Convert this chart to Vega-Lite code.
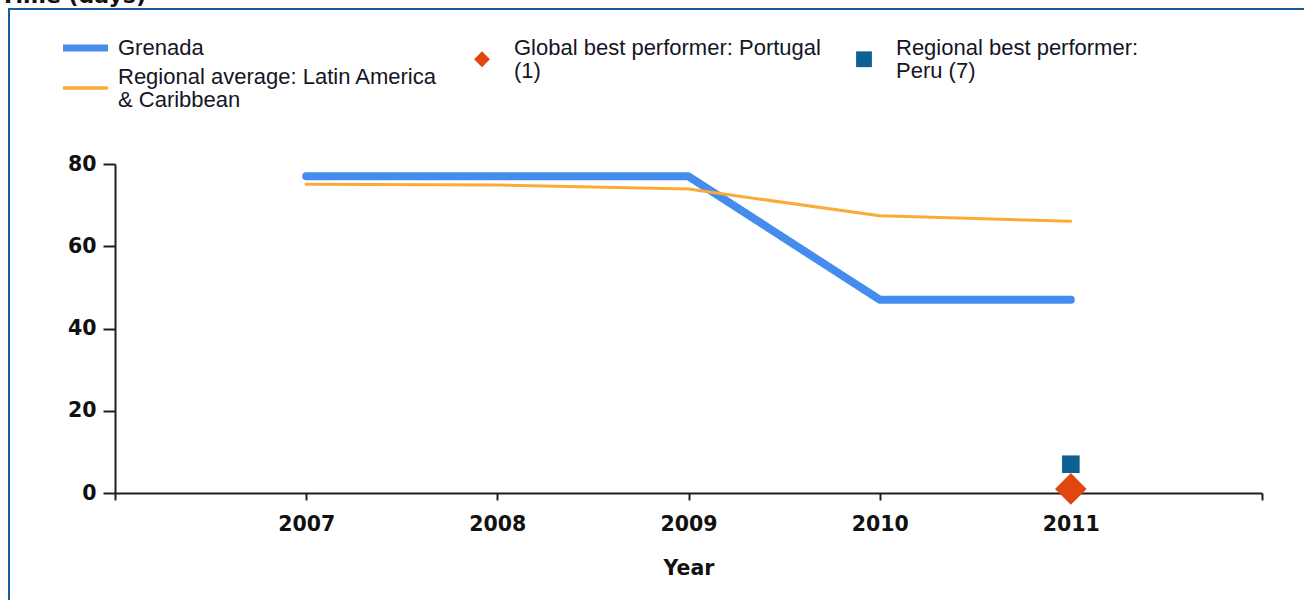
{
  "$schema": "https://vega.github.io/schema/vega-lite/v6.json",
  "autosize": "none",
  "width": 1295,
  "height": 591,
  "padding": {"left": 9, "top": 9, "right": 0, "bottom": 0},
  "background": "white",
  "config": {
    "view": {"stroke": "#1b5aa0", "strokeWidth": 2, "strokeDash": [1295, 1886, 591]},
    "axis": {
      "domainColor": "#1e1e1e", "domainWidth": 2, "tickColor": "#1e1e1e", "tickWidth": 2,
      "labelFont": "DejaVu Sans", "labelFontWeight": "bold", "labelFontSize": 20.5, "labelColor": "#111111",
      "titleFont": "DejaVu Sans", "titleFontWeight": "bold", "titleFontSize": 20.5, "titleColor": "#111111",
      "grid": false, "zindex": 1
    },
    "legend": {
      "labelFont": "Liberation Sans", "labelFontSize": 22, "labelColor": "#151525", "labelLimit": 500,
      "padding": 0, "title": null
    }
  },
  "datasets": {
    "lines": [
      {"year": 2007, "value": 77, "series": "Grenada"},
      {"year": 2008, "value": 77, "series": "Grenada"},
      {"year": 2009, "value": 77, "series": "Grenada"},
      {"year": 2010, "value": 47, "series": "Grenada"},
      {"year": 2011, "value": 47, "series": "Grenada"},
      {"year": 2007, "value": 75.1, "series": "Regional average: Latin America & Caribbean"},
      {"year": 2008, "value": 74.9, "series": "Regional average: Latin America & Caribbean"},
      {"year": 2009, "value": 73.9, "series": "Regional average: Latin America & Caribbean"},
      {"year": 2010, "value": 67.4, "series": "Regional average: Latin America & Caribbean"},
      {"year": 2011, "value": 66.1, "series": "Regional average: Latin America & Caribbean"}
    ],
    "points": [
      {"year": 2011, "value": 1, "performer": "Global best performer: Portugal (1)"},
      {"year": 2011, "value": 7, "performer": "Regional best performer: Peru (7)"}
    ]
  },
  "layer": [
    {
      "data": {"name": "lines"},
      "mark": {"type": "line", "strokeCap": "round", "strokeJoin": "round"},
      "encoding": {
        "x": {
          "field": "year", "type": "quantitative",
          "scale": {"domain": [2006, 2012], "range": [106, 1253], "zero": false, "nice": false},
          "axis": {
            "orient": "bottom", "offset": -107, "title": "Year", "titlePadding": 24,
            "values": [2006, 2007, 2008, 2009, 2010, 2011, 2012], "format": "d",
            "labelExpr": "datum.value == 2006 || datum.value == 2012 ? '' : datum.label",
            "tickSize": 7, "labelPadding": 14, "labelFlush": false
          }
        },
        "y": {
          "field": "value", "type": "quantitative",
          "scale": {"domain": [0, 80], "range": [484, 155], "nice": false},
          "axis": {
            "orient": "left", "offset": -106, "values": [0, 20, 40, 60, 80],
            "tickSize": 12, "labelPadding": 7,
            "title": "Time (days)", "titleAngle": 0, "titleAlign": "left", "titleBaseline": "alphabetic",
            "titleX": -115, "titleY": -7, "titleFontSize": 22, "titleFont": "DejaVu Sans"
          }
        },
        "color": {
          "field": "series", "type": "nominal",
          "scale": {"domain": ["Grenada", "Regional average: Latin America & Caribbean"], "range": ["#458cef", "#fbab35"]},
          "legend": {
            "orient": "none", "legendX": 65.5, "legendY": 28, "direction": "vertical",
            "symbolType": "stroke", "symbolSize": 2025, "labelOffset": 21.5, "rowPadding": 3,
            "labelExpr": "datum.label == 'Regional average: Latin America & Caribbean' ? ['Regional average: Latin America', '& Caribbean'] : datum.label",
            "encode": {
              "symbols": {"update": {"strokeWidth": {"signal": "datum.value == 'Grenada' ? 7 : 3.5"}}},
              "labels": {"update": {"dy": {"signal": "datum.value == 'Grenada' ? 0 : -11.5"}, "lineHeight": {"value": 23}}}
            }
          }
        },
        "strokeWidth": {
          "field": "series", "type": "nominal",
          "scale": {"domain": ["Grenada", "Regional average: Latin America & Caribbean"], "range": [8, 3]},
          "legend": null
        }
      }
    },
    {
      "data": {"name": "points"},
      "mark": {"type": "point", "filled": true, "opacity": 1},
      "encoding": {
        "x": {"field": "year", "type": "quantitative"},
        "y": {"field": "value", "type": "quantitative"},
        "color": {
          "field": "performer", "type": "nominal",
          "scale": {"domain": ["Global best performer: Portugal (1)", "Regional best performer: Peru (7)"], "range": ["#e0460e", "#0e6291"]},
          "legend": {
            "orient": "none", "legendX": 462, "legendY": 39, "direction": "horizontal", "columns": 2,
            "symbolSize": 250, "labelOffset": 21, "columnPadding": 32, "symbolOpacity": 1,
            "labelExpr": "datum.label == 'Global best performer: Portugal (1)' ? ['Global best performer: Portugal', '(1)'] : ['Regional best performer:', 'Peru (7)']",
            "encode": {
              "symbols": {"update": {"shape": {"signal": "datum.value == 'Global best performer: Portugal (1)' ? 'diamond' : 'square'"}}},
              "labels": {"update": {"dy": {"value": -11.5}, "lineHeight": {"value": 23}}}
            }
          }
        },
        "shape": {
          "field": "performer", "type": "nominal",
          "scale": {"domain": ["Global best performer: Portugal (1)", "Regional best performer: Peru (7)"], "range": ["diamond", "square"]},
          "legend": null
        },
        "size": {
          "field": "performer", "type": "nominal",
          "scale": {"domain": ["Global best performer: Portugal (1)", "Regional best performer: Peru (7)"], "range": [1000, 310]},
          "legend": null
        }
      }
    }
  ],
  "resolve": {"scale": {"color": "independent"}, "legend": {"color": "independent"}}
}
